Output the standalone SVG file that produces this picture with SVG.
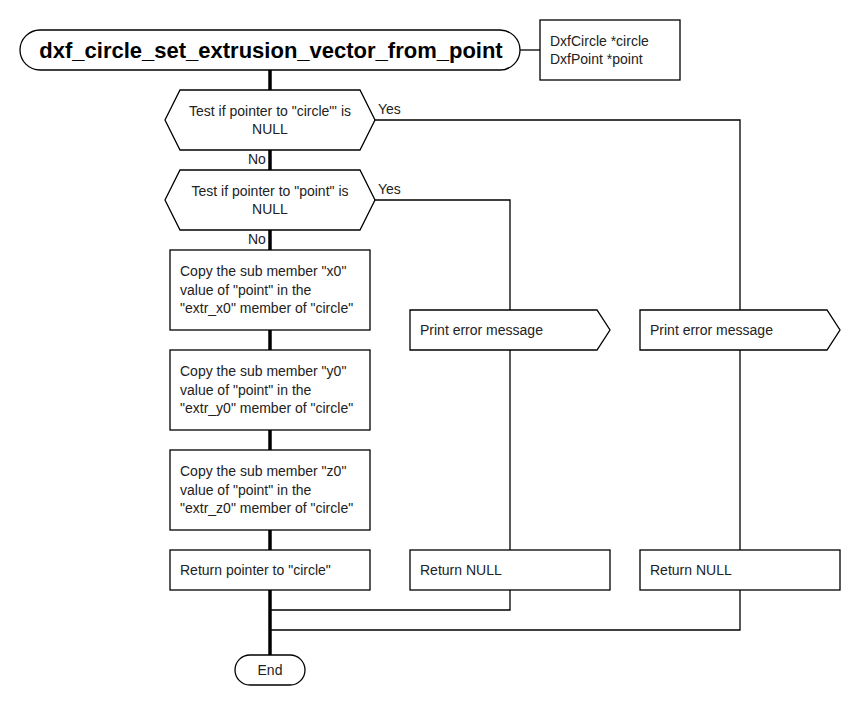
<svg xmlns="http://www.w3.org/2000/svg" width="860" height="710" viewBox="0 0 860 710">
<style>
.s{fill:#fff;stroke:#000;stroke-width:1.3}
.t{font-family:"Liberation Sans",Arial,sans-serif;font-size:14px;fill:#222}
.c{text-anchor:middle}
.w{fill:none;stroke:#000;stroke-width:1.3}
.sp{fill:none;stroke:#000;stroke-width:3.5}
</style>
<rect width="860" height="710" fill="#fff"/>
<g id="connectors">
<line class="sp" x1="270" y1="70" x2="270" y2="655"/>
<line class="w" x1="520" y1="50" x2="540" y2="50"/>
<polyline class="w" points="375,120 740,120 740,310"/>
<polyline class="w" points="375,200 510,200 510,310"/>
<line class="w" x1="510" y1="350" x2="510" y2="550"/>
<line class="w" x1="740" y1="350" x2="740" y2="550"/>
<polyline class="w" points="510,590 510,610 270,610"/>
<polyline class="w" points="740,590 740,630 270,630"/>
<text class="t" x="378" y="114">Yes</text>
<text class="t" x="378" y="194">Yes</text>
<text class="t" x="248" y="164">No</text>
<text class="t" x="248" y="244">No</text>
</g>
<g id="start">
<rect class="s" x="20" y="30" width="500" height="40" rx="20" ry="20"/>
<text x="271" y="58" text-anchor="middle" font-family="Liberation Sans,Arial,sans-serif" font-size="22" font-weight="bold" fill="#000">dxf_circle_set_extrusion_vector_from_point</text>
</g>
<g id="params">
<rect class="s" x="540" y="20" width="140" height="60"/>
<text class="t" x="550" y="46">DxfCircle *circle</text>
<text class="t" x="550" y="64">DxfPoint *point</text>
</g>
<g id="test_circle">
<polygon class="s" points="165,120 180,90 360,90 375,120 360,150 180,150"/>
<text class="t c" x="270" y="116">Test if pointer to "circle"' is</text>
<text class="t c" x="270" y="134">NULL</text>
</g>
<g id="test_point">
<polygon class="s" points="165,200 180,170 360,170 375,200 360,230 180,230"/>
<text class="t c" x="270" y="196">Test if pointer to "point" is</text>
<text class="t c" x="270" y="214">NULL</text>
</g>
<g id="copy_x0">
<rect class="s" x="170" y="250" width="200" height="80"/>
<text class="t" x="180" y="276">Copy the sub member "x0"</text>
<text class="t" x="180" y="295">value of "point" in the</text>
<text class="t" x="180" y="313">"extr_x0" member of "circle"</text>
</g>
<g id="copy_y0">
<rect class="s" x="170" y="350" width="200" height="80"/>
<text class="t" x="180" y="376">Copy the sub member "y0"</text>
<text class="t" x="180" y="395">value of "point" in the</text>
<text class="t" x="180" y="413">"extr_y0" member of "circle"</text>
</g>
<g id="copy_z0">
<rect class="s" x="170" y="450" width="200" height="80"/>
<text class="t" x="180" y="476">Copy the sub member "z0"</text>
<text class="t" x="180" y="495">value of "point" in the</text>
<text class="t" x="180" y="513">"extr_z0" member of "circle"</text>
</g>
<g id="return_circle">
<rect class="s" x="170" y="550" width="200" height="40"/>
<text class="t" x="180" y="575">Return pointer to "circle"</text>
</g>
<g id="error_point">
<polygon class="s" points="410,310 597,310 610,330 597,350 410,350"/>
<text class="t" x="420" y="335">Print error message</text>
</g>
<g id="error_circle">
<polygon class="s" points="640,310 827,310 840,330 827,350 640,350"/>
<text class="t" x="650" y="335">Print error message</text>
</g>
<g id="return_null_point">
<rect class="s" x="410" y="550" width="200" height="40"/>
<text class="t" x="420" y="575">Return NULL</text>
</g>
<g id="return_null_circle">
<rect class="s" x="640" y="550" width="200" height="40"/>
<text class="t" x="650" y="575">Return NULL</text>
</g>
<g id="end">
<rect class="s" x="235" y="655" width="70" height="30" rx="15" ry="15"/>
<text class="t c" x="270" y="675">End</text>
</g>
</svg>
